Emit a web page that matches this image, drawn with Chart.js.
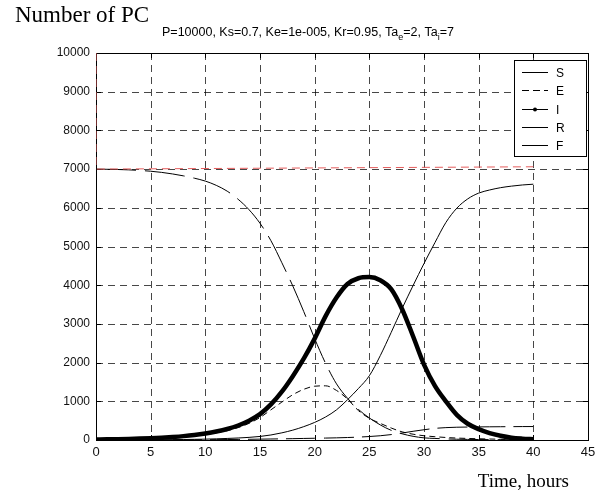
<!DOCTYPE html>
<html>
<head>
<meta charset="utf-8">
<script src="https://cdn.jsdelivr.net/npm/chart.js@4.4.0/dist/chart.umd.min.js"></script>
<style>
  html, body { margin: 0; padding: 0; background: #ffffff; }
  #wrap { width: 607px; height: 490px; }
</style>
</head>
<body>
<div id="wrap"><canvas id="c" width="607" height="490"></canvas></div>
<script>
// ---- data ----
const timeH = [0,1,2,3,4,5,6,7,8,9,10,11,12,13,14,15,16,17,18,19,20,21,22,23,24,25,26,27,28,29,30,31,32,33,34,35,36,37,38,39,40];
const sVals = [7000,6995,6990,6980,6965,6945,6915,6875,6825,6765,6690,6580,6430,6220,5950,5600,5150,4580,3980,3320,2620,1980,1450,1080,790,570,390,250,160,95,55,40,28,20,15,12,10,8,7,6,5];
const eVals = [5,8,12,18,26,36,50,68,90,115,145,185,240,320,430,580,780,980,1170,1310,1390,1400,1280,1060,760,560,430,310,210,150,110,85,65,50,40,32,25,20,16,13,10];
const iVals = [15,18,22,28,36,46,60,78,100,130,170,220,285,375,500,670,920,1250,1650,2100,2620,3200,3680,4030,4180,4210,4130,3900,3380,2680,1950,1400,1000,650,420,280,180,110,60,35,20];
const rVals = [0,1,2,3,4,6,8,10,13,17,22,30,40,52,68,92,130,185,255,345,455,595,780,1040,1330,1660,2180,2780,3400,3990,4560,5100,5620,5990,6230,6380,6460,6520,6560,6590,6610];
const fVals = [0,0,1,1,2,2,3,4,5,6,8,10,12,15,18,22,26,30,35,40,45,50,56,64,75,90,110,140,180,225,265,300,320,330,335,338,341,343,345,347,348];
const totalT = [0, 0, 40];
const totalV = [10000, 7000, 7060];
const seriesNames = ['S', 'E', 'I', 'R', 'F'];
const xTicks = [0,5,10,15,20,25,30,35,40,45];
const yTicks = [0,1000,2000,3000,4000,5000,6000,7000,8000,9000,10000];
const titleText = 'Number of PC';
const paramText = [['P=10000, Ks=0.7, Ke=1e-005, Kr=0.95, Ta', 'e', '=2, Ta', 'i', '=7']];
const xTitle = 'Time, hours';

const pts = (xs, ys) => xs.map((x, i) => ({x: x, y: ys[i]}));

const styles = {
  S: {dash: [40, 9], width: 1},
  E: {dash: [6, 4], width: 1},
  I: {dash: [], width: 4.5},
  R: {dash: [], width: 1},
  F: {dash: [30, 8], width: 1}
};
const valsBy = {S: sVals, E: eVals, I: iVals, R: rVals, F: fVals};

const datasets = seriesNames.map(n => ({
  label: n,
  data: pts(timeH, valsBy[n]),
  borderColor: '#000000',
  borderWidth: styles[n].width,
  borderDash: styles[n].dash,
  pointRadius: 0,
  fill: false,
  cubicInterpolationMode: 'monotone'
}));
datasets.unshift({
  label: 'total',
  data: pts(totalT, totalV),
  borderColor: '#e45c5c',
  borderWidth: 1,
  borderDash: [8, 5],
  pointRadius: 0,
  fill: false,
  tension: 0
});

const FONT_SANS = "'Liberation Sans', Arial, sans-serif";
const FONT_SERIF = "'Liberation Serif', 'Times New Roman', serif";

const decor = {
  id: 'decor',
  beforeDatasetsDraw(chart) {
    const {ctx, chartArea: a, scales} = chart;
    ctx.save();
    ctx.strokeStyle = 'rgba(0,0,0,0.72)';
    ctx.lineWidth = 1;
    ctx.setLineDash([7, 5]);
    xTicks.forEach(v => {
      if (v <= 0 || v >= 45) return;
      const x = Math.round(scales.x.getPixelForValue(v)) + 0.5;
      ctx.beginPath(); ctx.moveTo(x, a.top); ctx.lineTo(x, a.bottom); ctx.stroke();
    });
    yTicks.forEach(v => {
      if (v <= 0 || v >= 10000) return;
      const y = Math.round(scales.y.getPixelForValue(v)) + 0.5;
      ctx.beginPath(); ctx.moveTo(a.left, y); ctx.lineTo(a.right, y); ctx.stroke();
    });
    // box
    ctx.strokeStyle = '#000';
    ctx.setLineDash([]);
    ctx.strokeRect(Math.round(a.left) + 0.5, Math.round(a.top) + 0.5, Math.round(a.right - a.left), Math.round(a.bottom - a.top));
    // inward ticks
    xTicks.forEach(v => {
      const x = Math.round(scales.x.getPixelForValue(v)) + 0.5;
      ctx.beginPath(); ctx.moveTo(x, a.bottom); ctx.lineTo(x, a.bottom - 5); ctx.stroke();
      ctx.beginPath(); ctx.moveTo(x, a.top); ctx.lineTo(x, a.top + 5); ctx.stroke();
    });
    yTicks.forEach(v => {
      const y = Math.round(scales.y.getPixelForValue(v)) + 0.5;
      ctx.beginPath(); ctx.moveTo(a.left, y); ctx.lineTo(a.left + 5, y); ctx.stroke();
      ctx.beginPath(); ctx.moveTo(a.right, y); ctx.lineTo(a.right - 5, y); ctx.stroke();
    });
    ctx.restore();
  },
  afterDraw(chart) {
    const {ctx} = chart;
    ctx.save();
    ctx.strokeStyle = '#000';
    ctx.lineWidth = 1;
    // legend
    const lx = 514.5, ly = 60.5, lw = 72, lh = 96;
    ctx.fillStyle = '#fff';
    ctx.fillRect(lx, ly, lw, lh);
    ctx.strokeRect(lx, ly, lw, lh);
    ctx.font = '12px ' + FONT_SANS;
    ctx.textBaseline = 'middle';
    ctx.textAlign = 'left';
    seriesNames.forEach((n, i) => {
      const y = Math.round(72 + i * 18.3) + 0.5;
      ctx.strokeStyle = '#000';
      ctx.lineWidth = 1;
      ctx.setLineDash(n === 'E' ? [7, 4] : []);
      ctx.beginPath(); ctx.moveTo(522, y); ctx.lineTo(548, y); ctx.stroke();
      if (n === 'I') {
        ctx.setLineDash([]);
        ctx.fillStyle = '#000';
        ctx.beginPath(); ctx.arc(535, y, 2, 0, Math.PI * 2); ctx.fill();
      }
      ctx.fillStyle = '#000';
      ctx.fillText(n, 556, y + 1);
    });
    ctx.setLineDash([]);
    // titles
    ctx.fillStyle = '#000';
    ctx.textBaseline = 'alphabetic';
    ctx.font = '23px ' + FONT_SERIF;
    ctx.fillText(titleText, 15, 22);
    let x = 162;
    const parts = paramText[0];
    parts.forEach((p, i) => {
      const sub = (i % 2 === 1);
      ctx.font = (sub ? '9px ' : '12.5px ') + FONT_SANS;
      ctx.fillText(p, x, sub ? 40 : 36);
      x += ctx.measureText(p).width;
    });
    ctx.font = '19px ' + FONT_SERIF;
    ctx.textAlign = 'right';
    ctx.fillText(xTitle, 569, 487);
    ctx.restore();
  }
};

new Chart(document.getElementById('c'), {
  type: 'line',
  data: {datasets: datasets},
  options: {
    responsive: false,
    animation: false,
    layout: {padding: {top: 53, right: 19, left: 0, bottom: 0}},
    plugins: {legend: {display: false}, tooltip: {enabled: false}, title: {display: false}},
    scales: {
      x: {
        type: 'linear', min: 0, max: 45,
        afterBuildTicks: s => { s.ticks = xTicks.map(v => ({value: v})); },
        afterFit: s => { s.height = 50; },
        grid: {display: false, drawTicks: false},
        border: {display: false},
        ticks: {padding: 5, color: '#111', font: {family: FONT_SANS, size: 13}, maxRotation: 0, autoSkip: false}
      },
      y: {
        type: 'linear', min: 0, max: 10000,
        afterBuildTicks: s => { s.ticks = yTicks.map(v => ({value: v})); },
        afterFit: s => { s.width = 96; },
        grid: {display: false, drawTicks: false},
        border: {display: false},
        ticks: {padding: 6, color: '#111', font: {family: FONT_SANS, size: 12}, autoSkip: false,
                callback: v => String(v)}
      }
    }
  },
  plugins: [decor]
});
</script>
</body>
</html>
